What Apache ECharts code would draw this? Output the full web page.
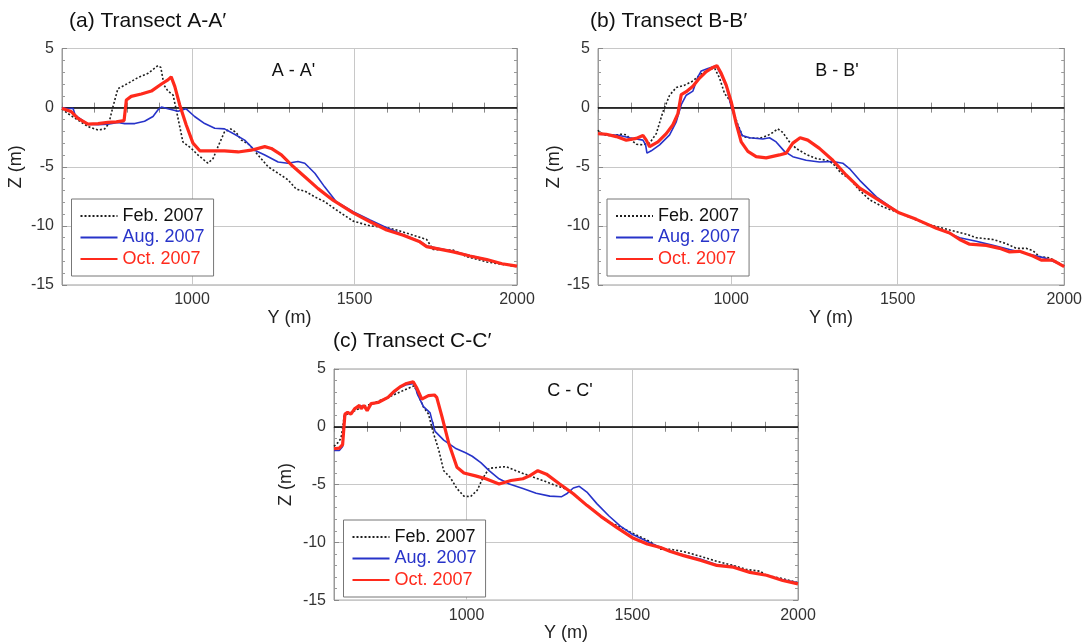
<!DOCTYPE html>
<html>
<head>
<meta charset="utf-8">
<style>
  html, body { margin: 0; padding: 0; background: #fff; }
  #chart { width: 1085px; height: 643px; }
</style>
<script src="https://cdn.jsdelivr.net/npm/echarts@6/dist/echarts.min.js"></script>
</head>
<body>
<div id="chart"></div>
<script>
// profiles: [Y (m), Z (m)]
const febA = [[600,-0.1],[618,-0.5],[649,-1.05],[680,-1.6],[711,-1.9],[731,-1.8],[744,-1.35],[757,0.1],[772,1.6],[803,2.05],[834,2.55],[865,2.9],[895,3.55],[904,3.4],[914,1.9],[926,1.4],[942,1.05],[957,-0.9],[972,-2.9],[998,-3.45],[1018,-4.0],[1049,-4.7],[1065,-4.3],[1080,-3.3],[1100,-2.05],[1119,-1.8],[1136,-2.1],[1152,-2.75],[1177,-3.15],[1203,-4.0],[1234,-5.0],[1265,-5.55],[1295,-6.1],[1321,-6.9],[1347,-7.05],[1378,-7.55],[1408,-7.95],[1444,-8.65],[1496,-9.6],[1548,-10.0],[1599,-10.15],[1630,-10.35],[1722,-11.15],[1742,-12.0],[1804,-12.05],[1845,-12.6],[1907,-13.05],[1954,-13.25],[2000,-13.45]]
const augA = [[600,0],[618,-0.1],[634,-0.05],[640,-0.6],[649,-0.8],[680,-1.4],[711,-1.45],[741,-1.4],[772,-1.25],[793,-1.35],[824,-1.35],[854,-1.15],[880,-0.75],[895,-0.2],[906,0.05],[926,-0.1],[957,-0.3],[982,-0.1],[1008,-0.75],[1039,-1.35],[1070,-1.75],[1100,-1.8],[1131,-2.25],[1162,-2.75],[1193,-3.6],[1224,-4.0],[1265,-4.6],[1295,-4.7],[1326,-4.55],[1347,-4.7],[1378,-5.55],[1408,-6.7],[1444,-7.95],[1496,-8.8],[1548,-9.5],[1599,-10.15],[1650,-10.75],[1701,-11.3],[1722,-11.7],[1804,-12.15],[1855,-12.5],[1907,-12.85],[1954,-13.2],[2000,-13.4]]
const octA = [[600,-0.05],[629,-0.35],[649,-0.9],[680,-1.4],[711,-1.35],[741,-1.25],[767,-1.2],[791,-1.1],[798,0.65],[813,0.95],[844,1.15],[875,1.4],[906,2.0],[926,2.35],[936,2.6],[947,1.8],[962,0.25],[982,-1.45],[1003,-3.0],[1024,-3.65],[1049,-3.65],[1100,-3.65],[1142,-3.75],[1182,-3.6],[1224,-3.3],[1244,-3.45],[1275,-4.0],[1306,-4.85],[1347,-5.85],[1388,-6.85],[1435,-7.85],[1496,-8.9],[1548,-9.65],[1599,-10.35],[1650,-10.8],[1701,-11.35],[1722,-11.75],[1804,-12.2],[1855,-12.55],[1907,-12.85],[1954,-13.2],[2000,-13.4]]

const febB = [[600,-1.9],[605,-2.1],[625,-2.35],[645,-2.35],[670,-2.25],[685,-2.3],[700,-2.75],[715,-3.1],[735,-3.15],[755,-3.0],[775,-2.2],[795,-0.35],[815,1.05],[835,1.7],[860,1.9],[885,2.25],[905,2.75],[930,3.2],[950,3.35],[965,2.5],[980,1.2],[995,0.65],[1005,-0.2],[1020,-1.45],[1035,-2.45],[1055,-2.55],[1085,-2.6],[1110,-2.35],[1125,-2.1],[1140,-1.8],[1155,-2.1],[1175,-2.9],[1195,-3.45],[1225,-3.95],[1255,-4.3],[1285,-4.45],[1305,-4.7],[1330,-5.55],[1355,-6.0],[1386,-7.0],[1416,-7.8],[1456,-8.4],[1504,-8.9],[1586,-9.85],[1656,-10.35],[1706,-10.7],[1736,-11.0],[1786,-11.15],[1826,-11.5],[1856,-11.9],[1886,-11.9],[1906,-12.1],[1926,-12.6],[1956,-12.7],[2000,-13.4]]
const augB = [[600,-2.25],[635,-2.3],[665,-2.35],[695,-2.55],[735,-2.75],[743,-3.15],[747,-3.85],[760,-3.65],[785,-3.15],[815,-2.3],[835,-1.2],[850,0.25],[865,1.05],[885,1.4],[900,2.6],[910,3.1],[930,3.3],[955,3.55],[970,2.75],[985,1.8],[1000,0.1],[1015,-1.2],[1033,-2.35],[1055,-2.55],[1095,-2.65],[1115,-2.55],[1135,-2.9],[1160,-3.7],[1185,-4.15],[1225,-4.45],[1265,-4.6],[1305,-4.55],[1335,-4.7],[1355,-5.15],[1386,-6.15],[1436,-7.55],[1504,-8.9],[1556,-9.45],[1616,-10.15],[1686,-11.0],[1736,-11.3],[1786,-11.65],[1836,-12.0],[1896,-12.4],[1946,-12.75],[2000,-13.4]]
const octB = [[600,-2.2],[625,-2.25],[655,-2.45],[685,-2.75],[715,-2.6],[735,-2.35],[745,-2.75],[755,-3.3],[780,-2.9],[805,-2.2],[825,-1.45],[840,-0.5],[850,1.1],[865,1.35],[885,1.8],[905,2.5],[925,3.05],[945,3.4],[957,3.55],[970,2.9],[985,1.9],[1000,0.5],[1015,-1.35],[1030,-2.9],[1050,-3.7],[1075,-4.15],[1105,-4.25],[1145,-4.0],[1165,-3.85],[1185,-3.0],[1207,-2.55],[1230,-2.75],[1265,-3.45],[1305,-4.45],[1345,-5.7],[1386,-6.8],[1436,-7.7],[1504,-8.9],[1556,-9.45],[1616,-10.2],[1656,-10.6],[1686,-11.15],[1716,-11.55],[1766,-11.65],[1806,-11.9],[1836,-12.2],[1866,-12.15],[1906,-12.55],[1931,-12.9],[1965,-12.9],[2000,-13.45]]

const febC = [[600,-1.7],[611,-1.4],[621,-1.0],[626,-0.15],[631,1.0],[641,1.1],[682,1.65],[733,2.2],[783,2.8],[814,3.2],[842,3.55],[855,2.7],[870,1.7],[885,1.1],[900,-0.55],[916,-2.0],[931,-3.8],[951,-4.4],[971,-5.35],[992,-6.0],[1012,-6.05],[1032,-5.5],[1048,-4.5],[1068,-3.6],[1098,-3.5],[1119,-3.45],[1149,-3.8],[1190,-4.25],[1230,-4.65],[1271,-5.1],[1312,-5.5],[1342,-6.35],[1383,-7.2],[1424,-8.2],[1459,-8.6],[1500,-9.2],[1555,-9.95],[1585,-10.6],[1615,-10.6],[1655,-10.8],[1705,-11.2],[1755,-11.65],[1805,-12.0],[1845,-12.35],[1885,-12.5],[1905,-12.85],[1954,-13.15],[2000,-13.5]]
const augC = [[600,-2.05],[616,-2.05],[626,-1.7],[631,0.85],[641,1.25],[651,1.1],[662,1.55],[677,1.8],[690,1.8],[700,1.45],[712,1.95],[733,2.1],[763,2.5],[783,3.0],[799,3.4],[819,3.65],[842,3.75],[852,2.8],[870,1.75],[883,1.4],[890,1.2],[897,0.4],[905,-0.4],[931,-1.15],[966,-1.85],[997,-2.25],[1017,-2.55],[1043,-3.1],[1068,-3.8],[1098,-4.5],[1129,-4.95],[1170,-5.35],[1210,-5.75],[1251,-6.0],[1287,-6.05],[1302,-5.8],[1322,-5.3],[1340,-5.15],[1363,-5.65],[1393,-6.65],[1429,-7.7],[1464,-8.6],[1500,-9.3],[1555,-10.05],[1570,-10.25],[1615,-10.75],[1655,-11.1],[1705,-11.45],[1755,-11.95],[1805,-12.1],[1855,-12.6],[1905,-12.85],[1954,-13.25],[2000,-13.5]]
const octC = [[600,-1.9],[616,-1.85],[626,-1.55],[633,1.1],[641,1.25],[651,1.1],[662,1.55],[677,1.85],[682,1.55],[690,1.85],[700,1.4],[712,2.0],[733,2.1],[763,2.55],[783,3.1],[799,3.45],[819,3.75],[839,3.9],[849,3.4],[865,2.4],[885,2.7],[903,2.75],[910,2.55],[926,0.85],[946,-1.4],[971,-3.5],[992,-4.0],[1027,-4.25],[1058,-4.5],[1098,-4.95],[1134,-4.65],[1170,-4.5],[1190,-4.25],[1215,-3.8],[1241,-4.1],[1281,-4.95],[1322,-5.8],[1363,-6.8],[1405,-7.75],[1455,-8.75],[1500,-9.6],[1545,-10.15],[1585,-10.45],[1615,-10.8],[1655,-11.15],[1705,-11.55],[1755,-12.0],[1805,-12.15],[1855,-12.6],[1905,-12.85],[1954,-13.3],[2000,-13.6]]

const seriesNames = ['Feb. 2007', 'Aug. 2007', 'Oct. 2007']
const panelTitles = ['(a) Transect A-A′', '(b) Transect B-B′', '(c) Transect C-C′']
const panelTags = ["A - A'", "B - B'", "C - C'"]
const xRange = [600, 2000]
const yRange = [-15, 5]
const xGridValues = [1000, 1500]

const profiles = [[febA, augA, octA], [febB, augB, octB], [febC, augC, octC]]

// layout (pixels)
const FONT = '"Liberation Sans", Arial, Helvetica, sans-serif'
const boxes = [
  { left: 62, top: 48.5, width: 455, height: 236.5 },
  { left: 598, top: 48.5, width: 467, height: 236.5 },
  { left: 334, top: 369, width: 464, height: 236 },
]
const legendPos = [[71.5, 199], [607, 199], [343.5, 520]]
const titlePos = [[69, 21], [590, 21], [333, 341]]
const tagPos = [[293.5, 71], [837, 71], [570, 391]]
const yNameGap = [37, 34, 39]

const lineColors = ['#1e1e1e', '#2733c9', '#ff2a1c']
const lineStyles = [
  { color: lineColors[0], width: 1.6, type: [2, 2] },
  { color: lineColors[1], width: 1.6, type: 'solid' },
  { color: lineColors[2], width: 3.2, type: 'solid' },
]
const frameColor = '#9a9a9a'
const gridColor = '#c8c8c8'

const chart = echarts.init(document.getElementById('chart'))

const grid = []
const xAxis = []
const yAxis = []
const series = []
const legend = []
const graphic = []

boxes.forEach((b, i) => {
  grid.push({ ...b, show: true, borderColor: frameColor, borderWidth: 1, backgroundColor: '#fff' })

  const tick = { show: true, inside: true, length: 5, lineStyle: { color: '#888' } }
  const xBase = {
    gridIndex: i, type: 'value', min: xRange[0], max: xRange[1], interval: 100,
    axisLine: { show: true, lineStyle: { color: frameColor } },
    axisTick: tick,
    splitLine: { show: false },
  }
  xAxis.push({
    ...xBase,
    position: 'bottom',
    axisLabel: {
      fontSize: 16, color: '#333', fontFamily: FONT, margin: 7,
      formatter: v => (v % 500 === 0 && v > xRange[0] ? String(v) : ''),
    },
    name: 'Y (m)', nameLocation: 'middle', nameGap: 18,
    nameTextStyle: { fontSize: 18, color: '#222', fontFamily: FONT },
  })
  xAxis.push({ ...xBase, position: 'top', axisLabel: { show: false } })

  const yBase = {
    gridIndex: i, type: 'value', min: yRange[0], max: yRange[1], interval: 5,
    axisLine: { show: true, lineStyle: { color: frameColor } },
    axisTick: tick,
    minorTick: { show: true, splitNumber: 5, length: 3, lineStyle: { color: '#999' } },
  }
  yAxis.push({
    ...yBase,
    position: 'left',
    splitLine: { show: true, lineStyle: { color: gridColor, width: 1 } },
    axisLabel: { fontSize: 16, color: '#333', fontFamily: FONT, margin: 8 },
    name: 'Z (m)', nameLocation: 'middle', nameGap: yNameGap[i], nameRotate: 90,
    nameTextStyle: { fontSize: 18, color: '#222', fontFamily: FONT },
  })
  yAxis.push({ ...yBase, position: 'right', splitLine: { show: false }, axisLabel: { show: false } })

  // vertical grid lines and the zero line, kept under the profiles
  series.push({
    name: 'grid' + i, type: 'line', xAxisIndex: 2 * i, yAxisIndex: 2 * i, data: [],
    silent: true, animation: false, z: 1,
    markLine: {
      silent: true, symbol: 'none', animation: false, z: 1, label: { show: false },
      data: [
        ...xGridValues.map(v => ({ xAxis: v, lineStyle: { color: gridColor, width: 1, type: 'solid' } })),
        { yAxis: 0, lineStyle: { color: '#000', width: 1.6, type: 'solid' } },
      ],
    },
  })

  profiles[i].forEach((d, k) => {
    series.push({
      name: seriesNames[k], type: 'line', xAxisIndex: 2 * i, yAxisIndex: 2 * i,
      data: d, symbol: 'none', showSymbol: false, animation: false, z: 2 + k,
      lineStyle: lineStyles[k], itemStyle: { color: lineColors[k] },
    })
  })

  legend.push({
    orient: 'vertical', left: legendPos[i][0], top: legendPos[i][1],
    itemWidth: 37, itemHeight: 14, itemGap: 3.5, selectedMode: false,
    padding: [8, 9, 8, 8], borderColor: '#777', borderWidth: 1, backgroundColor: '#fff',
    itemStyle: { opacity: 0, borderWidth: 0 },
    textStyle: { fontSize: 18, fontFamily: FONT },
    data: seriesNames.map((n, k) => ({ name: n, textStyle: { color: k === 0 ? '#111' : lineColors[k] } })),
  })

  graphic.push({
    type: 'text', x: titlePos[i][0], y: titlePos[i][1],
    style: { text: panelTitles[i], fontSize: 21, fontFamily: FONT, fill: '#111', verticalAlign: 'middle' },
  })
  graphic.push({
    type: 'text', x: tagPos[i][0], y: tagPos[i][1], z: 10,
    style: { text: panelTags[i], fontSize: 18, fontFamily: FONT, fill: '#111', align: 'center', verticalAlign: 'middle' },
  })
})

chart.setOption({
  backgroundColor: '#fff',
  animation: false,
  grid, xAxis, yAxis, series, legend, graphic,
})
</script>
</body>
</html>
